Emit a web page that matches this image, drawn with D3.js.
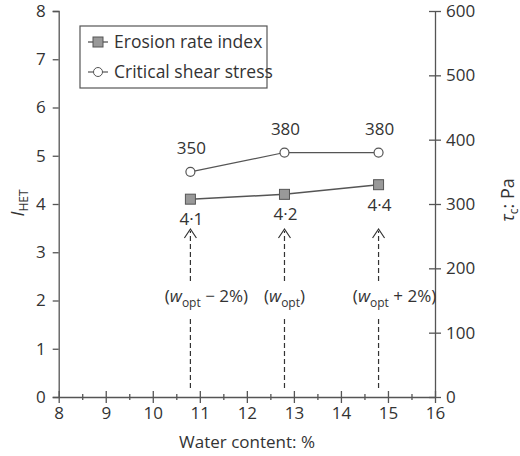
<!DOCTYPE html><html><head><meta charset="utf-8"><script src="https://cdn.jsdelivr.net/npm/d3@7"></script>
<style>body{margin:0;background:#fff}text{font-family:"Open Sans",sans-serif;fill:#333}</style></head><body><svg id="c" width="520" height="456"></svg>
<script>
const water=[10.8,12.8,14.8];
const erosion=[4.1,4.2,4.4];
const erosionLabels=["4·1","4·2","4·4"];
const shear=[350,380,380];
const shearLabels=["350","380","380"];
const xTicks=[8,9,10,11,12,13,14,15,16];
const annot=[["−","2%"],["",""],["+","2%"]];
const svg=d3.select("#c");
const x=d3.scaleLinear([8,16],[58.7,435]);
const yL=d3.scaleLinear([0,8],[397,11]);
const yR=d3.scaleLinear([0,600],[397,11]);
const ax=svg.append("g").attr("transform","translate(0,397)").call(d3.axisBottom(x).tickValues(d3.range(8,16.01,0.5)).tickFormat(d=>Number.isInteger(d)?d:"").tickSize(0));
ax.selectAll(".tick line").attr("y1",d=>Number.isInteger(d)?-6:-3).attr("y2",d=>Number.isInteger(d)?6:3);
const gl=svg.append("g").attr("transform","translate(58.7,0)").call(d3.axisLeft(yL).ticks(8).tickSize(6));
const gr=svg.append("g").attr("transform","translate(435,0)").call(d3.axisRight(yR).ticks(6).tickSize(0));
gr.selectAll(".tick line").attr("x1",-6).attr("x2",6);
[ax,gl,gr].forEach(g=>{g.select(".domain").attr("stroke","#555").attr("stroke-width",1.3);g.selectAll(".tick line").attr("stroke","#555").attr("stroke-width",1.3);g.selectAll("text").attr("font-size",17).attr("fill","#333").style("font-family","Open Sans");});
ax.selectAll("text").attr("dy","1.1em");
gl.selectAll("text").attr("dx",-4);gr.selectAll("text").attr("dx",8);
svg.append("text").attr("x",247).attr("y",448).attr("text-anchor","middle").attr("font-size",17).text("Water content: %");
svg.append("text").attr("transform","translate(24,203) rotate(-90)").attr("text-anchor","middle").attr("font-size",18).html('<tspan font-style="italic">I</tspan><tspan font-size="12" dy="4">HET</tspan>');
svg.append("text").attr("transform","translate(514,200) rotate(-90)").attr("text-anchor","middle").attr("font-size",18).html('<tspan font-style="italic">τ</tspan><tspan font-size="12" dy="4">c</tspan><tspan dy="-4">: Pa</tspan>');
const lc="#555";
svg.append("path").datum(water.map((w,i)=>[w,shear[i]])).attr("fill","none").attr("stroke",lc).attr("stroke-width",1.2).attr("d",d3.line(d=>x(d[0]),d=>yR(d[1])));
svg.append("path").datum(water.map((w,i)=>[w,erosion[i]])).attr("fill","none").attr("stroke",lc).attr("stroke-width",1.5).attr("d",d3.line(d=>x(d[0]),d=>yL(d[1])));
water.forEach((w,i)=>{
 svg.append("circle").attr("cx",x(w)).attr("cy",yR(shear[i])).attr("r",4.5).attr("fill","#fff").attr("stroke",lc).attr("stroke-width",1.2);
 svg.append("rect").attr("x",x(w)-5).attr("y",yL(erosion[i])-5).attr("width",10).attr("height",10).attr("fill","#999").attr("stroke","#555");
 svg.append("text").attr("x",x(w)+1).attr("y",yR(shear[i])-18).attr("text-anchor","middle").attr("font-size",17).text(shearLabels[i]);
 svg.append("text").attr("x",x(w)+1).attr("y",yL(erosion[i])+26).attr("text-anchor","middle").attr("font-size",17).text(erosionLabels[i]);
 const ax0=x(w);
 svg.append("line").attr("x1",ax0).attr("x2",ax0).attr("y1",388).attr("y2",318).attr("stroke","#333").attr("stroke-dasharray","5,3").attr("stroke-width",1.2);
 svg.append("line").attr("x1",ax0).attr("x2",ax0).attr("y1",281).attr("y2",231).attr("stroke","#333").attr("stroke-dasharray","5,3").attr("stroke-width",1.2);
 svg.append("path").attr("d",`M${ax0-6},${238}L${ax0},${229}L${ax0+6},${238}`).attr("fill","none").attr("stroke","#333").attr("stroke-width",1.2);
 const t=svg.append("text").attr("x",ax0+ (i==1?0:16)).attr("y",302).attr("text-anchor","middle").attr("font-size",17);
 let h='(<tspan font-style="italic">w</tspan><tspan font-size="12" dy="5">opt</tspan>';
 h+= annot[i][0]? `<tspan dy="-5"> ${annot[i][0]} ${annot[i][1]})</tspan>` : '<tspan dy="-5">)</tspan>';
 t.html(h);
});
svg.append("rect").attr("x",80).attr("y",26).attr("width",187).attr("height",62).attr("fill","#fff").attr("stroke","#555").attr("stroke-width",1.2);
svg.append("line").attr("x1",88).attr("x2",108).attr("y1",42).attr("y2",42).attr("stroke",lc).attr("stroke-width",1.3);
svg.append("rect").attr("x",93).attr("y",37).attr("width",10).attr("height",10).attr("fill","#999").attr("stroke","#555");
svg.append("text").attr("x",114).attr("y",48).attr("font-size",17.5).text("Erosion rate index");
svg.append("line").attr("x1",88).attr("x2",108).attr("y1",72).attr("y2",72).attr("stroke",lc).attr("stroke-width",1.2);
svg.append("circle").attr("cx",98).attr("cy",72).attr("r",4.5).attr("fill","#fff").attr("stroke",lc);
svg.append("text").attr("x",114).attr("y",78).attr("font-size",17.5).text("Critical shear stress");
</script></body></html>
